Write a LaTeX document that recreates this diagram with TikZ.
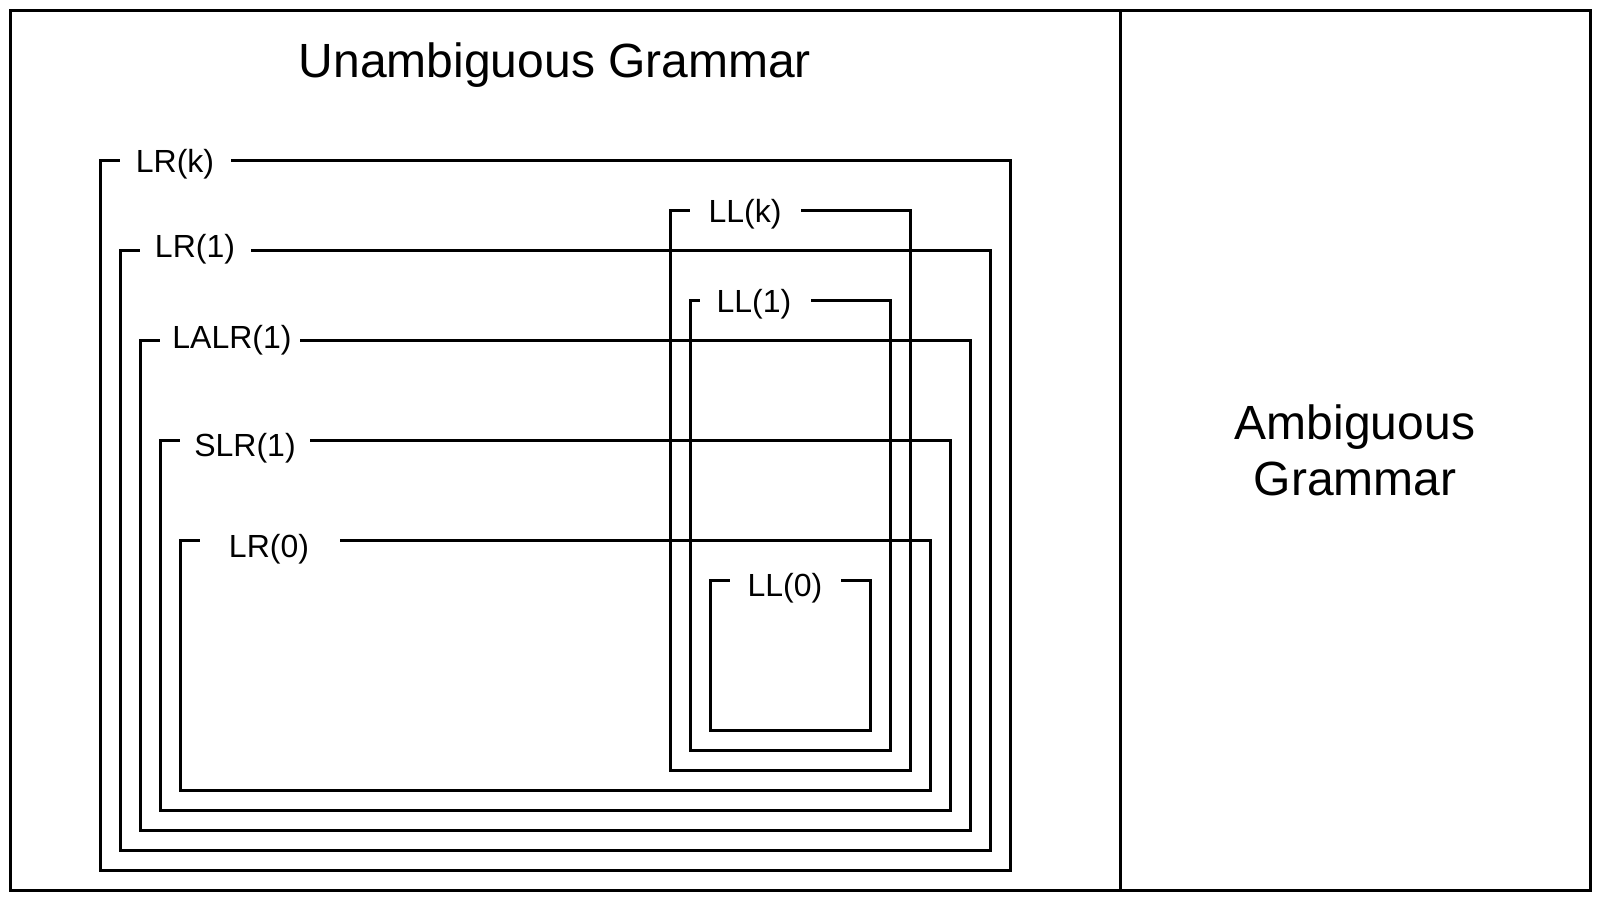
\documentclass[tikz,border=0pt]{standalone}
\usepackage{fontspec}
\setmainfont{Liberation Sans}
\usetikzlibrary{positioning}
\tikzset{
  frame/.style={draw=black, line width=1.5pt},
  setlabel/.style={font=\fontsize{16}{19}\selectfont, inner sep=0pt, anchor=base},
  title/.style={font=\fontsize{24}{28}\selectfont, align=center}
}

\begin{document}
\begin{tikzpicture}[x=0.5pt, y=-0.5pt]
\useasboundingbox (0,0) rectangle (1600,900);

% OUTER - two halves
\draw[frame] (10,10) rectangle (1590,890);
\draw[frame] (1120,10) -- (1120,890);
\node[title, anchor=base] (unamb) at (555,77) {Unambiguous Grammar};
\node[title] (amb) at (1355,450) {Ambiguous\\Grammar};

% LR family - nested frames
\node[setlabel] (lrk) at (175,172) {LR(k)};
\draw[frame] (231,160) -| (1010,870) -| (100,160) -- (120,160);

\node[setlabel] (lr1) at (195,257) {LR(1)};
\draw[frame] (251,250) -| (990,850) -| (120,250) -- (140,250);

\node[setlabel] (lalr) at (232,348) {LALR(1)};
\draw[frame] (300,340) -| (970,830) -| (140,340) -- (160,340);

\node[setlabel] (slr) at (245,456) {SLR(1)};
\draw[frame] (310,440) -| (950,810) -| (160,440) -- (180,440);

\node[setlabel] (lr0) at (269,557) {LR(0)};
\draw[frame] (340,540) -| (930,790) -| (180,540) -- (200,540);

% LL family - inside LR(k)
\node[setlabel] (llk) at (745,222) {LL(k)};
\draw[frame] (801,210) -| (910,770) -| (670,210) -- (690,210);

\node[setlabel] (ll1) at (754,312) {LL(1)};
\draw[frame] (811,300) -| (890,750) -| (690,300) -- (700,300);

\node[setlabel] (ll0) at (785,596) {LL(0)};
\draw[frame] (841,580) -| (870,730) -| (710,580) -- (730,580);
\end{tikzpicture}
\end{document}
